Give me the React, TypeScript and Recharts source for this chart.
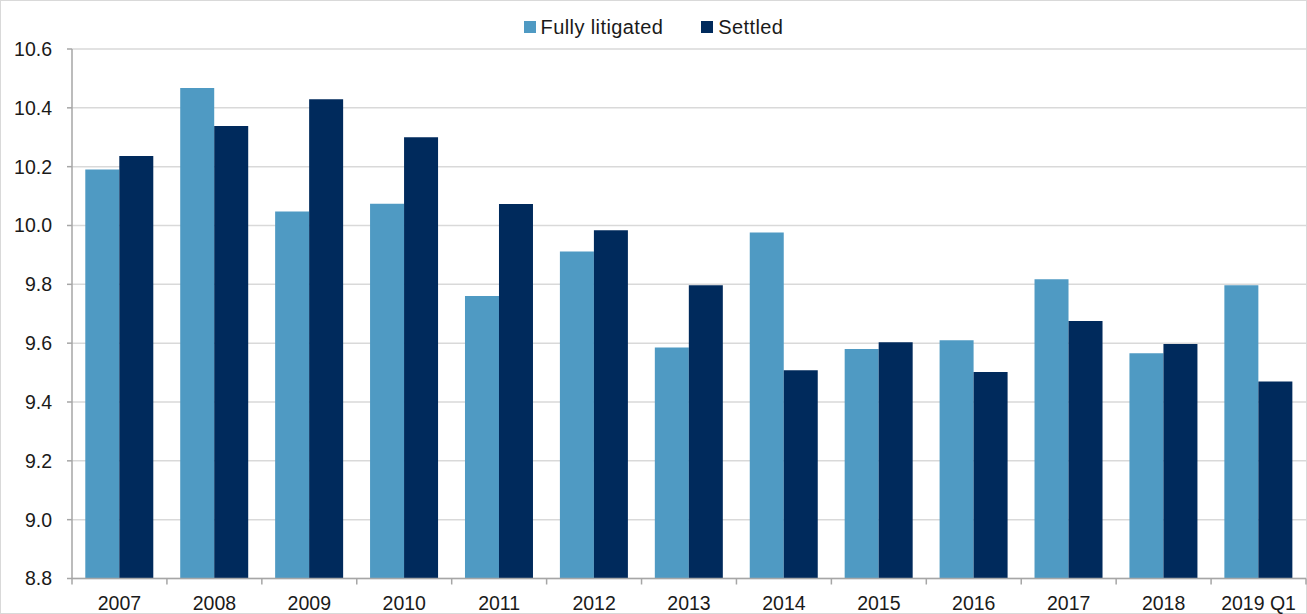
import React from 'react';
import { BarChart, Bar, XAxis, YAxis, CartesianGrid } from 'recharts';

const categories = ['2007', '2008', '2009', '2010', '2011', '2012', '2013', '2014', '2015', '2016', '2017', '2018', '2019 Q1'];
const fullyLitigated = [10.19, 10.467, 10.048, 10.074, 9.76, 9.912, 9.585, 9.976, 9.58, 9.61, 9.817, 9.566, 9.797];
const settled = [10.236, 10.338, 10.429, 10.3, 10.073, 9.984, 9.797, 9.508, 9.603, 9.502, 9.675, 9.597, 9.47];
const yTicks = [8.8, 9.0, 9.2, 9.4, 9.6, 9.8, 10.0, 10.2, 10.4, 10.6];
const seriesNames = ['Fully litigated', 'Settled'];

const LIGHT = '#4f9ac3';
const DARK = '#002a5c';
const FONT = '"Liberation Sans", Arial, sans-serif';

const data = categories.map((c, i) => ({ name: c, fully: fullyLitigated[i], settled: settled[i] }));

const XTick = (props: any) => {
  const { x, y, payload, index, width } = props;
  const half = payload && payload.offset ? payload.offset : width / categories.length / 2;
  return (
    <g>
      <line x1={x - half} x2={x - half} y1={y} y2={y + 6} stroke="#a6a6a6" strokeWidth={1.5} />
      {index === categories.length - 1 && (
        <line x1={x + half} x2={x + half} y1={y} y2={y + 6} stroke="#a6a6a6" strokeWidth={1.5} />
      )}
      <text x={x} y={y + 31} textAnchor="middle" fontSize={19.5} fill="#1a1a1a" fontFamily={FONT}>
        {payload.value}
      </text>
    </g>
  );
};

const LegendBox = () => (
  <div style={{ position: 'absolute', top: 15, left: 0, width: 1307, display: 'flex', justifyContent: 'center', alignItems: 'center', fontFamily: FONT, fontSize: 20, color: '#1a1a1a', lineHeight: '24px' }}>
    <span style={{ display: 'inline-block', width: 12, height: 12, background: LIGHT, marginRight: 5 }} />
    <span style={{ marginRight: 38, letterSpacing: 0.4 }}>{seriesNames[0]}</span>
    <span style={{ display: 'inline-block', width: 12, height: 12, background: DARK, marginRight: 5 }} />
    <span style={{ letterSpacing: 0.4 }}>{seriesNames[1]}</span>
  </div>
);

export default function App() {
  return (
    <div style={{ position: 'absolute', left: 0, top: 0, width: 1307, height: 614, background: '#fff', outline: '1px solid #d9d9d9', outlineOffset: -1 }}>
      <BarChart
        width={1307}
        height={614}
        data={data}
        margin={{ top: 49, right: 1, bottom: 0, left: 0 }}
        barCategoryGap="14%"
        barGap={0}
      >
        <CartesianGrid vertical={false} stroke="#d9d9d9" strokeWidth={1.5} />
        <XAxis
          dataKey="name"
          height={35.5}
          tickLine={false}
          tickSize={0}
          tickMargin={0}
          axisLine={{ stroke: '#a6a6a6', strokeWidth: 1.5 }}
          tick={<XTick />}
          interval={0}
        />
        <YAxis
          width={72}
          domain={[8.8, 10.6]}
          ticks={yTicks}
          tickFormatter={(v: number) => v.toFixed(1)}
          tick={{ fontSize: 19.5, fill: '#1a1a1a', fontFamily: FONT }}
          tickSize={5}
          tickMargin={15}
          tickLine={{ stroke: '#a6a6a6', strokeWidth: 1.5 }}
          axisLine={{ stroke: '#a6a6a6', strokeWidth: 1.5 }}
          allowDataOverflow
        />
        <Bar dataKey="fully" name={seriesNames[0]} fill={LIGHT} isAnimationActive={false} />
        <Bar dataKey="settled" name={seriesNames[1]} fill={DARK} isAnimationActive={false} />
      </BarChart>
      <LegendBox />
    </div>
  );
}
